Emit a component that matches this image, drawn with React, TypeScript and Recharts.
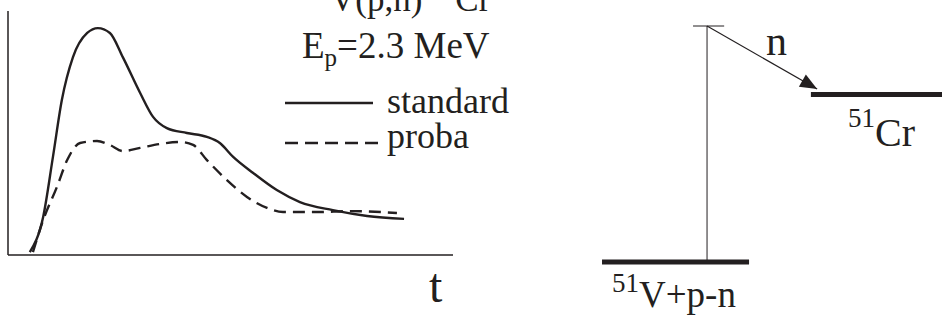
import React from 'react';
import { LineChart, Line, XAxis, YAxis, ReferenceLine } from 'recharts';

const INK = '#231f20';
const SERIF = '"Liberation Serif", "Times New Roman", "DejaVu Serif", serif';

// time-resolved yield, arbitrary units (t and intensity both 0..100)
const standardT = [4.9, 7.9, 10.1, 12.1, 14.6, 17.8, 20.2, 22.9, 25.8, 29.7, 32.6, 35.7, 40.2, 44.7, 47.6, 50.6, 55.1, 60.4, 65.6, 73.0, 80.7, 89.0];
const standardI = [1.2, 15.6, 40.2, 63.5, 81.1, 91.0, 93.0, 91.0, 81.1, 66.4, 56.6, 52.0, 50.0, 48.4, 45.9, 40.2, 33.6, 26.6, 21.7, 18.4, 16.0, 14.8];

const probaT = [5.6, 7.9, 11.0, 13.3, 16.2, 20.0, 22.9, 25.8, 29.7, 34.2, 38.7, 41.6, 44.7, 49.2, 53.7, 58.2, 61.8, 69.4, 76.9, 87.4];
const probaI = [1.2, 14.3, 27.9, 38.9, 45.9, 46.7, 45.1, 42.6, 43.9, 45.5, 46.3, 45.1, 38.9, 30.7, 23.8, 19.3, 17.6, 17.6, 18.0, 17.2];

// level scheme: x position (0..100), energy (0..10, arbitrary)
const groundLevel = { x1: 10.8, x2: 48.6, e: 0 };
const crLevel = { x1: 64.5, x2: 98.2, e: 7.1 };
const topLevel = { x1: 34.2, x2: 42.2, e: 10 };
const transitionX = 37.8;
const neutronArrow = [
  { x: 37.8, e: 10 },
  { x: 66.1, e: 7.33 },
];

const standardData = standardT.map((t, i) => ({ t, v: standardI[i] }));
const probaData = probaT.map((t, i) => ({ t, v: probaI[i] }));

const LEFT_W = 470;
const LEFT_H = 322;
const RIGHT_W = 389;
const RIGHT_H = 322;
const rightMargin = { top: 26, right: 0, bottom: 60, left: 0 };

const txt = (size: number): React.CSSProperties => ({ fontFamily: SERIF, fontSize: size });

function ArrowHead(props: any) {
  const { cx, cy, index } = props;
  if (index !== neutronArrow.length - 1 || cx == null) return <g key={`d-${index}`} />;
  const a = neutronArrow[0];
  const b = neutronArrow[1];
  const plotW = RIGHT_W - rightMargin.left - rightMargin.right;
  const plotH = RIGHT_H - rightMargin.top - rightMargin.bottom;
  const dx = ((b.x - a.x) / 100) * plotW;
  const dy = ((a.e - b.e) / 10) * plotH;
  const len = Math.hypot(dx, dy);
  const ux = dx / len;
  const uy = dy / len;
  const L = 17;
  const w = 7;
  const bx = cx - L * ux;
  const by = cy - L * uy;
  const pts = [
    [cx, cy],
    [bx - w * uy, by + w * ux],
    [bx + w * uy, by - w * ux],
  ]
    .map((p) => p.join(','))
    .join(' ');
  return <polygon key={`d-${index}`} points={pts} fill={INK} />;
}

export default function App() {
  return (
    <div style={{ position: 'absolute', left: 0, top: 0, width: 949, height: 322, background: '#fff' }}>
      <div style={{ position: 'absolute', left: 0, top: 0 }}>
        <LineChart width={LEFT_W} height={LEFT_H} margin={{ top: 11, right: 17, bottom: 66, left: 7 }}>
          <XAxis
            type="number"
            dataKey="t"
            domain={[0, 100]}
            height={1}
            tick={false}
            tickLine={false}
            axisLine={{ stroke: INK, strokeWidth: 1.5 }}
          />
          <YAxis
            type="number"
            domain={[0, 100]}
            width={1}
            tick={false}
            tickLine={false}
            axisLine={{ stroke: INK, strokeWidth: 1.5 }}
          />
          <Line
            data={standardData}
            dataKey="v"
            type="monotone"
            stroke={INK}
            strokeWidth={2.4}
            dot={false}
            isAnimationActive={false}
          />
          <Line
            data={probaData}
            dataKey="v"
            type="monotone"
            stroke={INK}
            strokeWidth={2.4}
            strokeDasharray="12 7"
            dot={false}
            isAnimationActive={false}
          />
        </LineChart>
      </div>

      <div style={{ position: 'absolute', left: 560, top: 0 }}>
        <LineChart width={RIGHT_W} height={RIGHT_H} margin={rightMargin}>
          <XAxis type="number" dataKey="x" domain={[0, 100]} hide />
          <YAxis type="number" domain={[0, 10]} hide />
          <ReferenceLine
            segment={[{ x: transitionX, y: groundLevel.e }, { x: transitionX, y: topLevel.e }]}
            stroke={INK}
            strokeWidth={1}
            ifOverflow="visible"
          />
          <ReferenceLine
            segment={[{ x: topLevel.x1, y: topLevel.e }, { x: topLevel.x2, y: topLevel.e }]}
            stroke={INK}
            strokeWidth={1}
            ifOverflow="visible"
          />
          <ReferenceLine
            segment={[{ x: groundLevel.x1, y: groundLevel.e }, { x: groundLevel.x2, y: groundLevel.e }]}
            stroke={INK}
            strokeWidth={5}
            ifOverflow="visible"
          />
          <ReferenceLine
            segment={[{ x: crLevel.x1, y: crLevel.e }, { x: crLevel.x2, y: crLevel.e }]}
            stroke={INK}
            strokeWidth={5}
            ifOverflow="visible"
          />
          <Line
            data={neutronArrow}
            dataKey="e"
            type="linear"
            stroke={INK}
            strokeWidth={1.2}
            dot={ArrowHead}
            activeDot={false}
            isAnimationActive={false}
          />
        </LineChart>
      </div>

      <svg
        width={949}
        height={322}
        style={{ position: 'absolute', left: 0, top: 0, pointerEvents: 'none' }}
        fill={INK}
      >
        <text x={305} y={11} style={txt(35)}>
          <tspan style={txt(25)} dy={-14}>51</tspan>
          <tspan dy={14}>V(p,n)</tspan>
          <tspan style={txt(25)} dx={8} dy={-14}>51</tspan>
          <tspan dy={14}>Cr</tspan>
        </text>
        <text x={302} y={58} style={txt(37)}>
          E<tspan style={txt(25)} dy={8}>p</tspan>
          <tspan dy={-8}>=2.3 MeV</tspan>
        </text>

        <line x1={285} x2={373} y1={103} y2={103} stroke={INK} strokeWidth={2.4} />
        <text x={387} y={113} style={txt(36)}>standard</text>
        <line x1={285} x2={381} y1={143} y2={143} stroke={INK} strokeWidth={2.4} strokeDasharray="13 7" />
        <text x={387} y={148} style={txt(36)}>proba</text>

        <text x={429} y={302} style={txt(48)}>t</text>

        <text x={766} y={55} style={txt(42)}>n</text>
        <text x={848} y={146} style={txt(40)}>
          <tspan style={txt(27)} dy={-19}>51</tspan>
          <tspan dy={19}>Cr</tspan>
        </text>
        <text x={612} y={307} style={txt(37)}>
          <tspan style={txt(27)} dy={-15}>51</tspan>
          <tspan dy={15}>V+p-n</tspan>
        </text>
      </svg>
    </div>
  );
}
